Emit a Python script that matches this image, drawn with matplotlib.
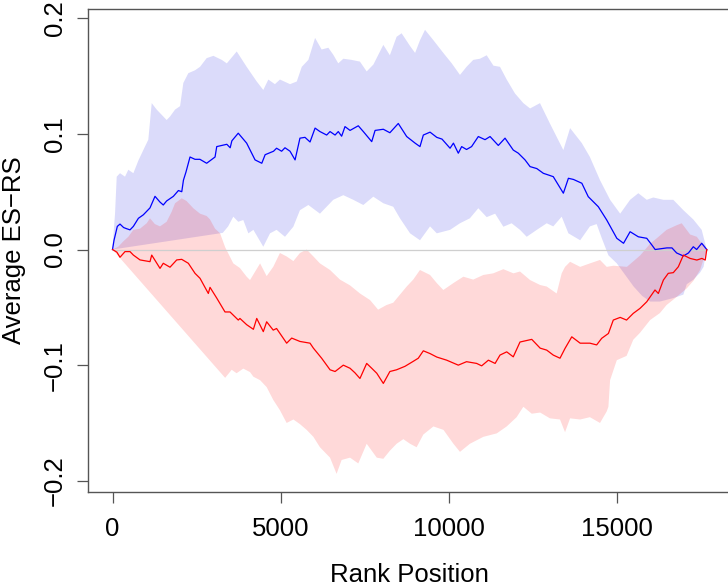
import matplotlib
matplotlib.use("Agg")
import matplotlib.pyplot as plt

# ---- data -----------------------------------------------------------------
blue_mean_x = [0, 45, 143, 223, 330, 420, 520, 620, 770, 916, 1115, 1264, 1413, 1510, 1610,
               1810, 1960, 2060, 2110, 2185, 2305, 2454, 2600, 2800, 3050, 3100, 3400, 3500,
               3550, 3740, 3990, 4240, 4440, 4540, 4790, 4880, 5030, 5130, 5280, 5430, 5575,
               5725, 5875, 6025, 6170, 6370, 6470, 6620, 6715, 6815, 6915, 7065, 7310, 7460,
               7710, 7810, 8055, 8250, 8500, 8750, 9000, 9145, 9245, 9445, 9645, 9800, 10040,
               10140, 10285, 10385, 10530, 10680, 10880, 11080, 11230, 11475, 11675, 11920,
               12070, 12270, 12420, 12620, 12815, 12960, 13110, 13410, 13560, 13710, 13960,
               14150, 14450, 14700, 15000, 15200, 15395, 15640, 15890, 16040, 16140, 16490,
               16640, 16780, 16980, 17130, 17275, 17375, 17525, 17675]
blue_mean_y = [0.0, 0.008, 0.020, 0.022, 0.019, 0.018, 0.017, 0.020, 0.027, 0.030, 0.036, 0.046,
               0.041, 0.0385, 0.042, 0.046, 0.051, 0.050, 0.060, 0.067, 0.080, 0.078, 0.078,
               0.0746, 0.080, 0.089, 0.091, 0.088, 0.094, 0.1006, 0.092, 0.0775, 0.0746, 0.082,
               0.085, 0.0876, 0.085, 0.088, 0.085, 0.0775, 0.0963, 0.097, 0.093, 0.105, 0.102,
               0.099, 0.102, 0.099, 0.102, 0.098, 0.1063, 0.103, 0.107, 0.102, 0.0933, 0.103,
               0.104, 0.101, 0.109, 0.0977, 0.092, 0.089, 0.099, 0.1015, 0.097, 0.0955, 0.0876,
               0.092, 0.0833, 0.089, 0.0865, 0.089, 0.0977, 0.095, 0.0977, 0.090, 0.0963, 0.086,
               0.0833, 0.0775, 0.0717, 0.070, 0.0659, 0.0645, 0.063, 0.0487, 0.0616, 0.0606,
               0.0573, 0.0457, 0.037, 0.0255, 0.0097, 0.0054, 0.0154, 0.011, 0.0097, 0.004, 0.0,
               0.0014, 0.0014, -0.003, -0.0056, -0.003, 0.0024, 0.0, 0.0054, 0.0]

red_mean_x = [0, 130, 223, 372, 520, 620, 818, 1115, 1166, 1413, 1510, 1710, 1910, 2058, 2255,
              2454, 2603, 2850, 2900, 3100, 3346, 3495, 3741, 3790, 3990, 4190, 4290, 4485,
              4585, 4780, 4880, 5180, 5330, 5575, 5875, 5975, 6220, 6470, 6620, 6865, 7065,
              7210, 7360, 7560, 7710, 7860, 8055, 8250, 8450, 8700, 8945, 9095, 9245, 9445,
              9645, 9940, 10285, 10530, 10830, 10980, 11180, 11380, 11525, 11725, 11920, 12120,
              12470, 12720, 12915, 13110, 13310, 13460, 13660, 13910, 14200, 14400, 14550,
              14750, 14895, 15100, 15290, 15490, 15690, 15890, 16135, 16235, 16385, 16530,
              16680, 16830, 16980, 17180, 17380, 17530, 17630, 17675]
red_mean_y = [0.0, -0.0023, -0.0067, -0.0018, -0.0018, -0.0048, -0.009, -0.0105, -0.0048, -0.0163,
              -0.0119, -0.0153, -0.0090, -0.0085, -0.0119, -0.0206, -0.0249, -0.038, -0.0327,
              -0.042, -0.054, -0.054, -0.061, -0.0596, -0.065, -0.069, -0.0596, -0.071, -0.0625,
              -0.0697, -0.0683, -0.081, -0.0766, -0.0795, -0.081, -0.0853, -0.094, -0.104,
              -0.1055, -0.100, -0.1027, -0.1066, -0.1115, -0.0985, -0.1027, -0.107, -0.1158,
              -0.1055, -0.104, -0.101, -0.0967, -0.094, -0.0876, -0.090, -0.093, -0.0957,
              -0.100, -0.097, -0.0985, -0.1006, -0.0957, -0.0985, -0.0913, -0.0885, -0.0928,
              -0.080, -0.0777, -0.0853, -0.087, -0.0913, -0.094, -0.0855, -0.0755, -0.081,
              -0.081, -0.0825, -0.0768, -0.0726, -0.061, -0.0587, -0.061, -0.0552, -0.0509,
              -0.0452, -0.035, -0.038, -0.0264, -0.0206, -0.020, -0.0149, -0.0048, -0.0077,
              -0.0091, -0.0077, -0.0091, 0.0]

blue_hi_x = [0, 75, 125, 223, 372, 470, 620, 770, 916, 1065, 1166, 1315, 1463, 1610, 1710, 1860,
             2010, 2106, 2255, 2454, 2603, 2800, 3000, 3250, 3400, 3695, 3990, 4290, 4485, 4635,
             4830, 4980, 5280, 5480, 5630, 5825, 6025, 6220, 6420, 6565, 6715, 6865, 7110, 7360,
             7560, 7760, 8055, 8250, 8450, 8600, 8850, 9000, 9146, 9295, 9545, 9840, 10090,
             10335, 10530, 10730, 10930, 11130, 11330, 11525, 11725, 11970, 12220, 12420, 12715,
             13010, 13410, 13610, 13960, 14200, 14500, 14800, 15100, 15395, 15640, 15890, 16085,
             16385, 16680, 16980, 17275, 17525, 17675]
blue_hi_y = [0.002, 0.031, 0.063, 0.066, 0.063, 0.069, 0.066, 0.077, 0.086, 0.095, 0.1266, 0.121,
             0.1165, 0.112, 0.115, 0.121, 0.124, 0.144, 0.1525, 0.155, 0.158, 0.1655, 0.1675,
             0.164, 0.161, 0.1713, 0.158, 0.1453, 0.138, 0.147, 0.143, 0.147, 0.143, 0.1453,
             0.158, 0.164, 0.183, 0.173, 0.1745, 0.1685, 0.161, 0.165, 0.164, 0.1625, 0.154,
             0.160, 0.177, 0.168, 0.184, 0.187, 0.176, 0.170, 0.181, 0.190, 0.181, 0.170, 0.161,
             0.151, 0.158, 0.164, 0.165, 0.168, 0.159, 0.158, 0.147, 0.135, 0.1266, 0.122,
             0.1266, 0.109, 0.086, 0.105, 0.092, 0.080, 0.060, 0.043, 0.031, 0.043, 0.0487,
             0.043, 0.045, 0.043, 0.043, 0.034, 0.026, 0.017, 0.0]

blue_lo_x = [0, 3280, 3440, 3593, 3740, 3890, 4040, 4190, 4485, 4685, 4880, 5130, 5378, 5575,
             5825, 6170, 6567, 6865, 7160, 7460, 7757, 8055, 8350, 8550, 8850, 9146, 9445, 9645,
             10040, 10335, 10630, 10880, 11130, 11380, 11625, 11870, 12120, 12320, 12620, 12915,
             13110, 13360, 13560, 13910, 14200, 14400, 14550, 14750, 15000, 15250, 15500, 15750,
             15990, 16280, 16680, 16980, 17080, 17280, 17475, 17580, 17675]
blue_lo_y = [0.0, 0.0144, 0.020, 0.0284, 0.024, 0.0255, 0.014, 0.017, 0.0024, 0.014, 0.017, 0.011,
             0.0197, 0.034, 0.0385, 0.031, 0.043, 0.047, 0.043, 0.0385, 0.0457, 0.040, 0.037,
             0.027, 0.014, 0.008, 0.020, 0.014, 0.017, 0.0227, 0.027, 0.0357, 0.028, 0.031,
             0.0197, 0.0227, 0.017, 0.011, 0.017, 0.0227, 0.020, 0.0284, 0.014, 0.008, 0.020,
             0.022, 0.010, -0.005, -0.012, -0.022, -0.032, -0.040, -0.045, -0.045, -0.042,
             -0.039, -0.030, -0.026, -0.020, -0.015, 0.0]

red_hi_x = [0, 170, 320, 470, 620, 818, 1017, 1115, 1260, 1413, 1610, 1760, 1860, 2058, 2200, 2404,
            2603, 2800, 2900, 3050, 3200, 3350, 3593, 3790, 3990, 4090, 4390, 4585, 4780, 4980,
            5180, 5380, 5575, 5775, 5975, 6170, 6470, 6765, 7065, 7360, 7660, 7900, 8150, 8350,
            8550, 8750, 8945, 9145, 9445, 9645, 9840, 10140, 10435, 10730, 11030, 11325, 11625,
            11925, 12120, 12420, 12720, 12915, 13210, 13360, 13460, 13610, 13910, 14200, 14500,
            14700, 14900, 15300, 15700, 15990, 16200, 16480, 16780, 16930, 17180, 17380, 17480,
            17600, 17675]
red_hi_y = [0.0, 0.0024, 0.007, 0.011, 0.017, 0.018, 0.0227, 0.027, 0.022, 0.020, 0.024, 0.0327,
            0.040, 0.0443, 0.042, 0.0357, 0.031, 0.029, 0.026, 0.018, 0.014, 0.002, -0.012,
            -0.016, -0.0235, -0.0264, -0.012, -0.023, -0.015, -0.003, -0.006, -0.010, -0.003,
            0.0, -0.006, -0.012, -0.0177, -0.026, -0.031, -0.038, -0.0437, -0.052, -0.048,
            -0.046, -0.039, -0.032, -0.026, -0.0177, -0.022, -0.029, -0.035, -0.029, -0.0235,
            -0.026, -0.022, -0.0206, -0.017, -0.0206, -0.019, -0.0264, -0.0307, -0.032, -0.038,
            -0.0206, -0.015, -0.0106, -0.015, -0.012, -0.009, -0.015, -0.014, -0.015, -0.005,
            0.005, 0.010, 0.017, 0.021, 0.0227, 0.013, 0.011, 0.007, 0.004, 0.0]

red_lo_x = [0, 3350, 3545, 3690, 3890, 4090, 4190, 4390, 4585, 4780, 4980, 5180, 5380, 5575, 5775,
            5975, 6170, 6470, 6665, 6815, 7065, 7310, 7560, 7710, 7860, 8055, 8250, 8450, 8650,
            8850, 9045, 9245, 9545, 9845, 10140, 10335, 10630, 11030, 11430, 11725, 12020, 12220,
            12470, 12720, 13010, 13310, 13460, 13610, 13910, 14200, 14500, 14700, 14750, 14800,
            15000, 15290, 15490, 15690, 15990, 16280, 16480, 16780, 17080, 17280, 17475, 17675]
red_lo_y = [0.0, -0.111, -0.104, -0.107, -0.103, -0.106, -0.110, -0.113, -0.119, -0.130, -0.139,
            -0.150, -0.147, -0.151, -0.156, -0.162, -0.171, -0.180, -0.194, -0.182, -0.180,
            -0.185, -0.168, -0.174, -0.180, -0.181, -0.174, -0.168, -0.164, -0.168, -0.171,
            -0.160, -0.153, -0.156, -0.168, -0.175, -0.168, -0.162, -0.159, -0.153, -0.145,
            -0.136, -0.142, -0.141, -0.146, -0.147, -0.158, -0.146, -0.147, -0.145, -0.150,
            -0.140, -0.136, -0.113, -0.0957, -0.092, -0.078, -0.072, -0.061, -0.055, -0.048,
            -0.041, -0.0336, -0.027, -0.0177, 0.0]

x_ticks = [0, 5000, 10000, 15000]
y_ticks = [-0.2, -0.1, 0.0, 0.1, 0.2]
y_tick_labels = ["\u22120.2", "\u22120.1", "0.0", "0.1", "0.2"]

# ---- figure ----------------------------------------------------------------
plt.rcParams["font.family"] = ["Liberation Sans", "DejaVu Sans"]
plt.rcParams["font.size"] = 18.5

fig = plt.figure(figsize=(7.28, 5.88), dpi=100)
ax = fig.add_axes([88 / 728, 96 / 588, (731.5 - 88) / 728, 483 / 588])

# shaded bands: upper edge forward, lower edge backward
ax.fill(blue_hi_x + blue_lo_x[::-1], blue_hi_y + blue_lo_y[::-1],
        color="#0000e0", alpha=0.14, linewidth=0)
ax.fill(red_hi_x + red_lo_x[::-1], red_hi_y + red_lo_y[::-1],
        color="red", alpha=0.15, linewidth=0)

ax.plot([0, blue_mean_x[-1]], [0, 0], color="#cfcfcf", linewidth=0.9)

ax.plot(blue_mean_x, blue_mean_y, color="#0000ff", linewidth=0.9)
ax.plot(red_mean_x, red_mean_y, color="#ff0000", linewidth=0.9)

ax.set_xlim(-729, 18411)
ax.set_ylim(-0.2097, 0.208)

ax.set_xticks(x_ticks)
ax.set_xticklabels([str(v) for v in x_ticks])
ax.set_yticks(y_ticks)
ax.set_yticklabels(y_tick_labels, rotation=90, va="center")

for s in ax.spines.values():
    s.set_color("#555555")
    s.set_linewidth(1.0)
ax.tick_params(direction="out", length=8, width=0.9, color="#555555", pad=7)
ax.tick_params(axis="x", pad=10)

ax.set_xlabel("Rank Position", labelpad=16)
ax.set_ylabel("Average ES\u2212RS", labelpad=12)

fig.savefig("out.png", dpi=100)
